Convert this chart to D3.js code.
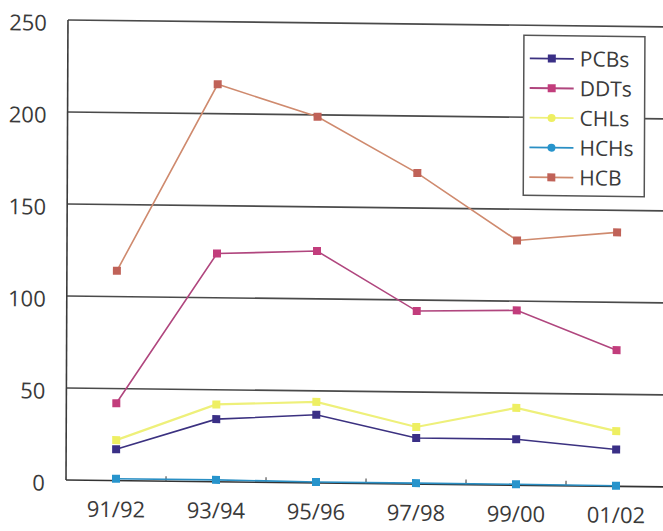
<!DOCTYPE html>
<html>
<head>
<meta charset="utf-8">
<script src="https://cdn.jsdelivr.net/npm/d3@7"></script>
<style>
  html, body { margin: 0; padding: 0; background: #fff; }
  svg { display: block; }
  text { font-family: "Open Sans", "Noto Sans", sans-serif; fill: #3a3a3a; }
</style>
</head>
<body>
<svg id="chart" width="663" height="531"></svg>
<script>
// Survey seasons and pollutant concentrations per season
const categories = ["91/92", "93/94", "95/96", "97/98", "99/00", "01/02"];
const pcbs = [17, 34, 37, 25, 25, 20];
const ddts = [42, 124, 126, 94, 95, 74];
const chls = [22, 42, 44, 31, 42, 30];
const hchs = [1, 1, 0.5, 0.5, 0.5, 0.3];
const hcb  = [114, 216, 199, 169, 133, 138];
const yTicks = [0, 50, 100, 150, 200, 250];

const seriesNames  = ["PCBs", "DDTs", "CHLs", "HCHs", "HCB"];
const seriesValues = [pcbs, ddts, chls, hchs, hcb];
const lineColors   = ["#3b3180", "#b0467e", "#eef07a", "#2a8fc4", "#cf8a6e"];
const markColors   = ["#3a2f86", "#c23d7c", "#eeef62", "#2794cc", "#c06258"];

const svg = d3.select("#chart");

// Plot frame: left axis at x=66, baseline at y=480
const plotLeft = 66, plotRight = 666, plotTop = 20, plotBottom = 480;

const x = d3.scaleBand().domain(categories).range([plotLeft, plotRight]).padding(0);
const cx = c => x(c) + x.bandwidth() / 2;
const y = d3.scaleLinear().domain([0, 250]).range([plotBottom, plotTop]);

// The whole page sits very slightly tilted, as on a printed sheet;
// the bottom-left corner of the plot stays fixed
const k = 0.0115, s = -0.0043;
const g = svg.append("g")
  .attr("transform", `matrix(1, ${k}, ${s}, 1, ${-s * plotBottom}, ${-k * plotLeft})`);

// Horizontal gridlines (including the top border)
g.append("g").selectAll("line")
  .data(yTicks.filter(t => t > 0))
  .join("line")
  .attr("x1", plotLeft).attr("x2", 680)
  .attr("y1", d => y(d)).attr("y2", d => y(d))
  .attr("stroke", "#4a4a4a").attr("stroke-width", 1.6);

// Y axis labels
const yAxis = d3.axisLeft(y).tickValues(yTicks).tickSize(0).tickPadding(21);
const yg = g.append("g").attr("transform", `translate(${plotLeft},0)`).call(yAxis);
yg.select(".domain").remove();
yg.selectAll("text")
  .attr("font-size", 22).attr("dy", "0.38em")
  .attr("font-family", "'Open Sans', sans-serif").attr("fill", "#3a3a3a")
  .attr("transform", "translate(0,2)");

// Left axis line
g.append("line")
  .attr("x1", plotLeft).attr("x2", plotLeft).attr("y1", plotTop).attr("y2", plotBottom)
  .attr("stroke", "#3a3a3a").attr("stroke-width", 1.6);

// Bottom axis with labels centred in each band
const xAxis = d3.axisBottom(x).tickSize(0).tickPadding(21);
const xg = g.append("g").attr("transform", `translate(0,${plotBottom})`).call(xAxis);
xg.select(".domain").remove();
xg.selectAll("text")
  .attr("font-size", 22)
  .attr("font-family", "'Open Sans', sans-serif").attr("fill", "#3a3a3a");

g.append("line")
  .attr("x1", plotLeft).attr("x2", 680).attr("y1", plotBottom).attr("y2", plotBottom)
  .attr("stroke", "#333").attr("stroke-width", 1.6);

// Small inward tick marks on the band boundaries
g.append("g").selectAll("line")
  .data(categories.slice(1))
  .join("line")
  .attr("x1", d => x(d)).attr("x2", d => x(d))
  .attr("y1", plotBottom).attr("y2", plotBottom - 5)
  .attr("stroke", "#555").attr("stroke-width", 1.2);

// Series lines and square markers
const line = d3.line().x((d, i) => cx(categories[i])).y(d => y(d));

seriesValues.forEach((vals, si) => {
  const sg = g.append("g");
  sg.append("path")
    .datum(vals)
    .attr("d", line)
    .attr("fill", "none")
    .attr("stroke", lineColors[si])
    .attr("stroke-width", si === 2 ? 2.2 : 1.6);
  sg.selectAll("rect")
    .data(vals)
    .join("rect")
    .attr("x", (d, i) => cx(categories[i]) - 4)
    .attr("y", d => y(d) - 4)
    .attr("width", 8).attr("height", 8)
    .attr("fill", markColors[si]);
});

// Legend
const lg = g.append("g");
const lx = 522, ly = 30, lw = 121, lh = 160;
lg.append("rect")
  .attr("x", lx).attr("y", ly).attr("width", lw).attr("height", lh)
  .attr("fill", "#fff").attr("stroke", "#555").attr("stroke-width", 1.5);

const rowY = i => ly + 23 + i * 29.7;
seriesNames.forEach((name, i) => {
  const yy = rowY(i);
  lg.append("line")
    .attr("x1", lx + 6).attr("x2", lx + 50).attr("y1", yy).attr("y2", yy)
    .attr("stroke", lineColors[i]).attr("stroke-width", 1.8);
  if (i === 2 || i === 3) {
    lg.append("circle").attr("cx", lx + 28).attr("cy", yy).attr("r", 4)
      .attr("fill", markColors[i]);
  } else {
    lg.append("rect").attr("x", lx + 24).attr("y", yy - 4)
      .attr("width", 8).attr("height", 8).attr("fill", markColors[i]);
  }
  lg.append("text")
    .attr("x", lx + 56).attr("y", yy).attr("dy", "0.36em")
    .attr("font-size", 21)
    .text(name);
});
</script>
</body>
</html>
